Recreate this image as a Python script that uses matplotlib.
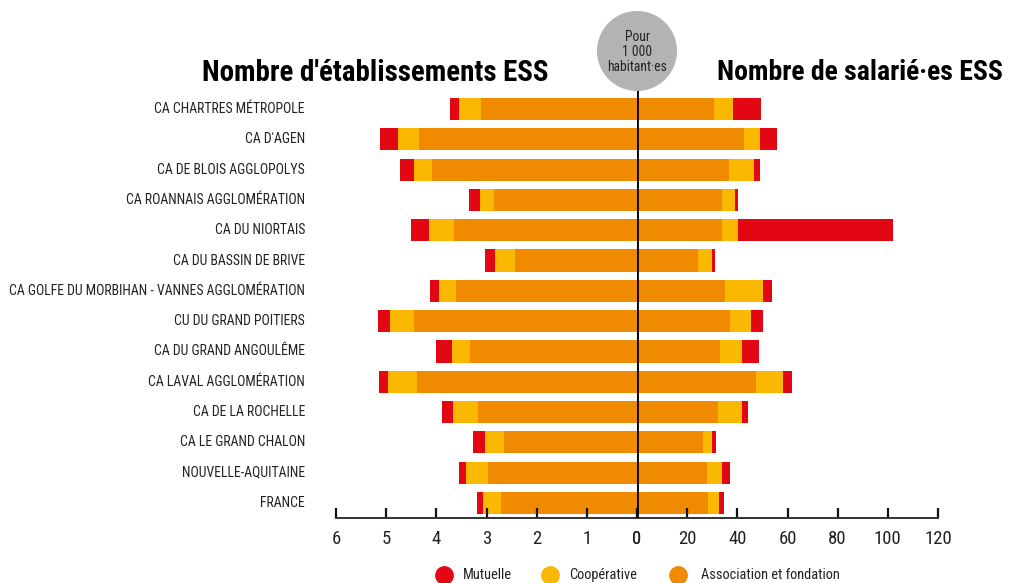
import matplotlib
matplotlib.use("Agg")
import matplotlib.pyplot as plt
from matplotlib.patches import Ellipse
from matplotlib.lines import Line2D
import numpy as np

plt.rcParams['font.family'] = ['Roboto Condensed', 'Liberation Sans Narrow', 'Roboto', 'DejaVu Sans']

categories = [
    "CA CHARTRES MÉTROPOLE", "CA D'AGEN", "CA DE BLOIS AGGLOPOLYS",
    "CA ROANNAIS AGGLOMÉRATION", "CA DU NIORTAIS", "CA DU BASSIN DE BRIVE",
    "CA GOLFE DU MORBIHAN - VANNES AGGLOMÉRATION", "CU DU GRAND POITIERS",
    "CA DU GRAND ANGOULÊME", "CA LAVAL AGGLOMÉRATION", "CA DE LA ROCHELLE",
    "CA LE GRAND CHALON", "NOUVELLE-AQUITAINE", "FRANCE",
]

# Establishments per 1000 inhabitants
etab_assoc = [3.11, 4.35, 4.09, 2.85, 3.65, 2.43, 3.61, 4.45, 3.33, 4.39, 3.17, 2.65, 2.97, 2.71]
etab_coop  = [0.44, 0.42, 0.36, 0.28, 0.50, 0.40, 0.34, 0.48, 0.36, 0.58, 0.50, 0.38, 0.44, 0.36]
etab_mut   = [0.18, 0.36, 0.28, 0.22, 0.36, 0.20, 0.18, 0.24, 0.32, 0.18, 0.22, 0.24, 0.14, 0.12]

# Employees per 1000 inhabitants
sal_assoc = [30.8, 42.7, 36.8, 34.0, 34.0, 24.4, 35.2, 37.2, 33.2, 47.5, 32.4, 26.4, 28.0, 28.4]
sal_coop  = [7.6, 6.4, 10.0, 5.2, 6.4, 5.6, 15.1, 8.3, 8.7, 10.8, 9.5, 3.6, 6.0, 4.4]
sal_mut   = [11.1, 6.8, 2.4, 1.2, 61.5, 1.2, 3.6, 4.8, 6.8, 3.6, 2.4, 1.6, 3.2, 2.0]

left_ticks = [6, 5, 4, 3, 2, 1, 0]
right_ticks = [0, 20, 40, 60, 80, 100, 120]

C_MUT = "#E30613"
C_COOP = "#FAB900"
C_ASSOC = "#F08A00"

W, H = 1011, 583
fig = plt.figure(figsize=(W / 100, H / 100), dpi=100)

def fx(px):
    return px / W

def fy(py):
    return 1 - py / H

ax_top_px, ax_bot_px = 90, 518
row0, rowN = 109, 503
step = (rowN - row0) / 13
ytop = -(row0 - ax_top_px) / step
ybot = 13 + (ax_bot_px - rowN) / step

axL = fig.add_axes([fx(336), fy(ax_bot_px), fx(637) - fx(336), fy(ax_top_px) - fy(ax_bot_px)])
axR = fig.add_axes([fx(637), fy(ax_bot_px), fx(938) - fx(637), fy(ax_top_px) - fy(ax_bot_px)])

y = np.arange(len(categories))
bh = 0.73

ea = np.array(etab_assoc); ec = np.array(etab_coop); em = np.array(etab_mut)
sa = np.array(sal_assoc); sc = np.array(sal_coop); sm = np.array(sal_mut)

axL.barh(y, ea, height=bh, color=C_ASSOC, linewidth=0)
axL.barh(y, ec, left=ea, height=bh, color=C_COOP, linewidth=0)
axL.barh(y, em, left=ea + ec, height=bh, color=C_MUT, linewidth=0)

axR.barh(y, sa, height=bh, color=C_ASSOC, linewidth=0)
axR.barh(y, sc, left=sa, height=bh, color=C_COOP, linewidth=0)
axR.barh(y, sm, left=sa + sc, height=bh, color=C_MUT, linewidth=0)

axL.set_xlim(6, 0)
axR.set_xlim(0, 120)
for ax in (axL, axR):
    ax.set_ylim(ybot, ytop)
    ax.set_yticks([])
    for s in ("top", "right", "left"):
        ax.spines[s].set_visible(False)
    ax.spines["bottom"].set_color("#333333")
    ax.spines["bottom"].set_linewidth(1.4)
    ax.tick_params(axis="x", direction="in", length=7.5, width=1.6, color="#111111",
                   labelsize=13.5, pad=8.5, labelcolor="#222222")
    ax.patch.set_visible(False)

axL.set_xticks(left_ticks)
axL.set_xticklabels([str(t) for t in left_ticks])
axR.set_xticks(right_ticks)
axR.set_xticklabels([str(t) for t in right_ticks])

# center line
axR.axvline(0, color="black", linewidth=2.0, zorder=5)

# category labels
lab_x = (305 - 336) / 301
for i, c in enumerate(categories):
    axL.text(lab_x, i, c, transform=axL.get_yaxis_transform(), ha="right", va="center",
             fontsize=9.9, color="#222222")

# titles
fig.text(fx(548), fy(73), "Nombre d'établissements ESS", ha="right", va="center",
         fontsize=20.9, fontweight="bold", color="black")
fig.text(fx(717), fy(73), "Nombre de salarié·es ESS", ha="left", va="center",
         fontsize=20.0, fontweight="bold", color="black")

# circle badge
circ = Ellipse((fx(637), fy(51)), width=80 / W, height=80 / H, transform=fig.transFigure,
               facecolor="#B3B3B3", edgecolor="none", zorder=10)
fig.add_artist(circ)
fig.text(fx(637), fy(52), "Pour\n1 000\nhabitant·es", ha="center", va="center",
         fontsize=9.8, color="#222222", linespacing=1.05, zorder=11)

# legend
leg_items = [("Mutuelle", C_MUT, 444, 463), ("Coopérative", C_COOP, 550, 569),
             ("Association et fondation", C_ASSOC, 678, 701)]
for label, col, mx, tx in leg_items:
    fig.add_artist(Line2D([fx(mx)], [fy(575)], marker="o", markersize=12.5, color=col,
                          linestyle="none", transform=fig.transFigure))
    fig.text(fx(tx), fy(575), label, ha="left", va="center", fontsize=10.4, color="#222222")

fig.savefig("out.png", dpi=100)
